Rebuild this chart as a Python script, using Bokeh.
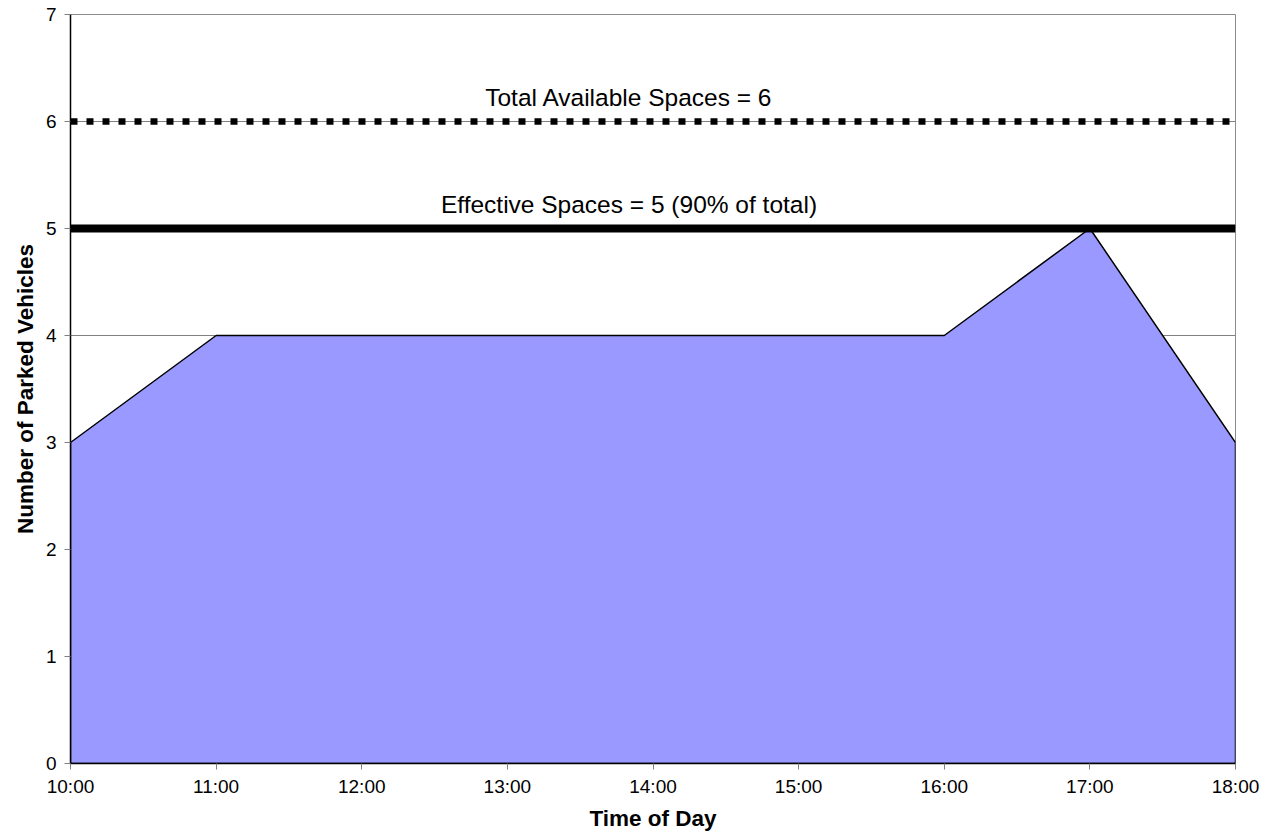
from bokeh.plotting import figure
from bokeh.models import FixedTicker, Span, Label, Range1d
from bokeh.embed import file_html
from bokeh.resources import INLINE

# Hourly parking occupancy
time_labels = ["10:00", "11:00", "12:00", "13:00", "14:00", "15:00", "16:00", "17:00", "18:00"]
parked = [3, 4, 4, 4, 4, 4, 4, 5, 3]
total_spaces = 6
effective_spaces = 5
y_ticks = [0, 1, 2, 3, 4, 5, 6, 7]

hours = [int(t.split(":")[0]) for t in time_labels]

FONT = "Liberation Sans"

p = figure(
    width=1269, height=837,
    output_backend="svg", toolbar_location=None,
    x_range=Range1d(hours[0], hours[-1]),
    y_range=Range1d(0, 7),
    min_border_left=70, min_border_right=34,
    min_border_top=14, min_border_bottom=74,
)
p.background_fill_color = "white"
p.border_fill_color = "white"
p.outline_line_color = "#8c8c8c"
p.outline_line_width = 1

# Occupancy area
xs = hours + [hours[-1], hours[0]]
ys = parked + [0, 0]
p.patch(xs, ys, fill_color="#9999FF", line_color="black", line_width=1.5)

# Capacity reference lines
p.add_layout(Span(location=total_spaces, dimension="width",
                  line_color="black", line_width=6.5, line_dash="7 9"))
p.add_layout(Span(location=effective_spaces, dimension="width",
                  line_color="black", line_width=8))

mid = (hours[0] + hours[-1]) / 2
p.add_layout(Label(x=mid, y=total_spaces, x_offset=-24, y_offset=11,
                   text=f"Total Available Spaces = {total_spaces}",
                   text_align="center", text_baseline="bottom",
                   text_font=FONT, text_font_size="24.5px", text_color="black"))
p.add_layout(Label(x=mid, y=effective_spaces, x_offset=-24, y_offset=11,
                   text=f"Effective Spaces = {effective_spaces} (90% of total)",
                   text_align="center", text_baseline="bottom",
                   text_font=FONT, text_font_size="24.5px", text_color="black"))

# Grid
p.xgrid.visible = False
p.ygrid.ticker = FixedTicker(ticks=y_ticks[1:])
p.ygrid.grid_line_color = "#808080"
p.ygrid.grid_line_width = 1
p.ygrid.level = "underlay"

# Axes
p.xaxis.ticker = FixedTicker(ticks=hours)
p.xaxis.major_label_overrides = {h: t for h, t in zip(hours, time_labels)}
p.yaxis.ticker = FixedTicker(ticks=y_ticks)

for ax in (p.xaxis[0], p.yaxis[0]):
    ax.axis_line_color = "black"
    ax.axis_line_width = 1.5
    ax.major_tick_line_color = "#808080"
    ax.major_tick_in = 0
    ax.major_tick_out = 6
    ax.minor_tick_line_color = None
    ax.major_label_text_font = FONT
    ax.major_label_text_font_size = "19px"
    ax.major_label_text_color = "black"
    ax.axis_label_text_font = FONT
    ax.axis_label_text_font_size = "22.5px"
    ax.axis_label_text_font_style = "bold"
    ax.axis_label_text_color = "black"

p.xaxis.axis_label = "Time of Day"
p.yaxis.axis_label = "Number of Parked Vehicles"
p.xaxis.major_label_standoff = 6
p.xaxis.axis_label_standoff = 6
p.yaxis.major_label_standoff = 8
p.yaxis.axis_label_standoff = 5

open("out.html", "w").write(file_html(p, INLINE))
